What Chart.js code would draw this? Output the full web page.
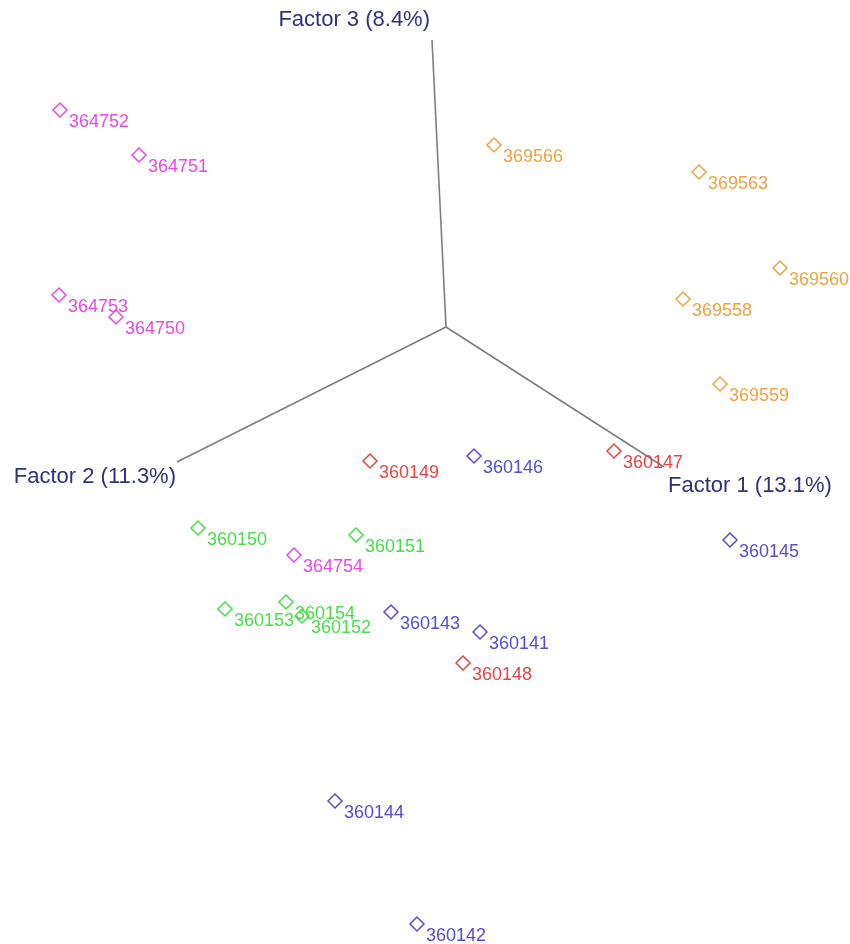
<!DOCTYPE html>
<html>
<head>
<meta charset="utf-8">
<script src="https://cdn.jsdelivr.net/npm/chart.js@4"></script>
<style>
  html, body { margin: 0; padding: 0; background: #fff; }
  #wrap { width: 850px; height: 944px; position: relative; }
</style>
</head>
<body>
<div id="wrap"><canvas id="pcoaChart"></canvas></div>
<script>
// projected coordinates (x right, y down)
const magentaIds = ["364752", "364751", "364753", "364750", "364754"];
const magentaX = [60, 139, 59, 116, 294];
const magentaY = [110, 155, 295, 317, 555];

const orangeIds = ["369566", "369563", "369560", "369558", "369559"];
const orangeX = [494, 699, 780, 683, 720];
const orangeY = [145, 172, 268, 299, 384];

const redIds = ["360149", "360147", "360148"];
const redX = [370, 614, 463];
const redY = [461, 451, 663];

const blueIds = ["360146", "360145", "360143", "360141", "360144", "360142"];
const blueX = [474, 730, 391, 480, 335, 417];
const blueY = [456, 540, 612, 632, 801, 924];

const greenIds = ["360150", "360151", "360154", "360152", "360153"];
const greenX = [198, 356, 286, 302, 225];
const greenY = [528, 535, 602, 616, 609];

// the three factor axes: origin and end of each
const axisNames = ["Factor 1 (13.1%)", "Factor 2 (11.3%)", "Factor 3 (8.4%)"];
const originXY = [446, 327];
const axisEndX = [664, 177, 432];
const axisEndY = [467, 462, 40];

function pts(xs, ys, ids) {
    return xs.map(function (x, i) { return { x: x, y: ys[i], id: ids[i] }; });
}

function group(ids, xs, ys, color) {
    return {
        type: 'scatter',
        data: pts(xs, ys, ids),
        pointStyle: 'rectRot',
        pointRadius: 7,
        pointHoverRadius: 7,
        borderWidth: 1.5,
        borderColor: color,
        backgroundColor: 'rgba(0,0,0,0)',
        labelColor: color
    };
}

const axisSets = axisNames.map(function (name, i) {
    return {
        type: 'line',
        data: [{ x: originXY[0], y: originXY[1] }, { x: axisEndX[i], y: axisEndY[i] }],
        borderColor: 'rgb(125,125,125)',
        borderWidth: 1.6,
        pointRadius: 0,
        fill: false,
        axisName: name
    };
});

const font = '"Liberation Sans", Arial, sans-serif';

// draws sample ids next to each diamond and the factor names at axis ends
const labelPlugin = {
    id: 'labelPlugin',
    afterDatasetsDraw(chart) {
        const ctx = chart.ctx;
        const xs = chart.scales.x, ys = chart.scales.y;
        ctx.save();
        ctx.textBaseline = 'middle';
        chart.data.datasets.forEach(function (ds) {
            if (ds.labelColor) {
                ctx.font = '18px ' + font;
                ctx.fillStyle = ds.labelColor;
                ctx.textAlign = 'left';
                ds.data.forEach(function (p) {
                    ctx.fillText(p.id, xs.getPixelForValue(p.x) + 9, ys.getPixelForValue(p.y) + 12);
                });
            }
        });
        ctx.font = '22px ' + font;
        ctx.fillStyle = 'rgb(48,48,125)';
        // Factor 1: below-right of the end, Factor 2: left of end, Factor 3: above end
        let e1x = xs.getPixelForValue(axisEndX[0]), e1y = ys.getPixelForValue(axisEndY[0]);
        ctx.textAlign = 'left';
        ctx.fillText(axisNames[0], e1x + 4, e1y + 19);
        let e2x = xs.getPixelForValue(axisEndX[1]), e2y = ys.getPixelForValue(axisEndY[1]);
        ctx.textAlign = 'right';
        ctx.fillText(axisNames[1], e2x - 1, e2y + 15);
        let e3x = xs.getPixelForValue(axisEndX[2]), e3y = ys.getPixelForValue(axisEndY[2]);
        ctx.fillText(axisNames[2], e3x - 2, e3y - 20);
        ctx.restore();
    }
};

const config = {
    type: 'scatter',
    data: {
        datasets: axisSets.concat([
            group(magentaIds, magentaX, magentaY, 'rgb(232,72,232)'),
            group(orangeIds, orangeX, orangeY, 'rgb(240,162,66)'),
            group(redIds, redX, redY, 'rgb(232,68,68)'),
            group(blueIds, blueX, blueY, 'rgb(86,76,214)'),
            group(greenIds, greenX, greenY, 'rgb(72,222,72)')
        ])
    },
    options: {
        responsive: true,
        maintainAspectRatio: false,
        animation: false,
        layout: { padding: 0, autoPadding: false },
        plugins: { legend: { display: false }, tooltip: { enabled: false } },
        scales: {
            x: { type: 'linear', min: 0, max: 850, display: false },
            y: { type: 'linear', min: 0, max: 944, reverse: true, display: false }
        }
    },
    plugins: [labelPlugin]
};

const ctx = document.getElementById('pcoaChart').getContext('2d');
const pcoaChart = new Chart(ctx, config);
</script>
</body>
</html>
